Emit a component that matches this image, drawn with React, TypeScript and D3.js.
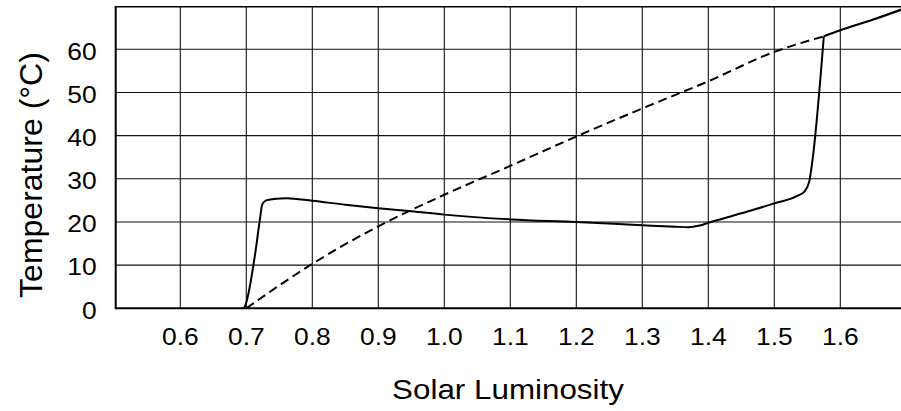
import React from 'react';
import * as d3 from 'd3';

const xTicks = [0.6, 0.7, 0.8, 0.9, 1.0, 1.1, 1.2, 1.3, 1.4, 1.5, 1.6];
const yTicks = [0, 10, 20, 30, 40, 50, 60];

// Solid curve (temperature with daisies), lower branch up to the jump
const solidL = [0.695, 0.698, 0.712, 0.721, 0.724, 0.73, 0.745, 0.761, 0.8, 0.85, 0.9, 0.95, 1.0, 1.1, 1.2, 1.3, 1.35, 1.37, 1.385, 1.4, 1.45, 1.5, 1.534, 1.546, 1.553, 1.557, 1.559, 1.575];
const solidT = [0, 0.5, 11.2, 21, 24, 25, 25.4, 25.5, 24.9, 24.0, 23.2, 22.5, 21.7, 20.6, 20.0, 19.25, 18.9, 18.8, 19.1, 19.8, 22.0, 24.3, 26.0, 27.1, 29.4, 33.3, 35.7, 63.0];
// Solid curve, upper branch after the jump
const solidHighL = [1.575, 1.6, 1.65, 1.7];
const solidHighT = [63.0, 64.4, 66.9, 69.6];

// Dashed curve (temperature without daisies)
const dashedL = [0.7, 0.8, 0.9, 1.0, 1.1, 1.2, 1.3, 1.4, 1.5, 1.575];
const dashedT = [0, 10.3, 19.0, 26.3, 33.0, 39.8, 46.3, 52.6, 59.4, 63.0];

const xLabel = 'Solar Luminosity';
const yLabel = 'Temperature (°C)';

export default function App() {
  const W = 901, H = 411;
  const x = d3.scaleLinear().domain([0.6, 1.6]).range([180.3, 840.3]);
  const y = d3.scaleLinear().domain([0, 60]).range([308.3, 49.3]);
  const left = 115.7, top = 6.7, bottom = 308.3, right = 906;
  const font = '"Liberation Sans", Arial, Helvetica, sans-serif';

  const line = d3.line<[number, number]>().x(d => x(d[0])).y(d => y(d[1])).curve(d3.curveMonotoneX);
  const pts = (ls: number[], ts: number[]) => ls.map((l, i) => [l, ts[i]] as [number, number]);
  const solid = line(pts(solidL, solidT)) || '';
  const solidHigh = line(pts(solidHighL, solidHighT)) || '';
  const dashed = line(pts(dashedL, dashedT)) || '';

  return (
    <svg width={W} height={H} style={{ position: 'absolute', left: 0, top: 0, background: '#fff' }}>
      <rect x={0} y={0} width={W} height={H} fill="#fff" />
      {xTicks.map(t => (
        <line key={'gx' + t} x1={x(t)} x2={x(t)} y1={top} y2={bottom} stroke="#111" strokeWidth={1.1} />
      ))}
      {yTicks.filter(t => t > 0).map(t => (
        <line key={'gy' + t} x1={left} x2={right} y1={y(t)} y2={y(t)} stroke="#111" strokeWidth={1.1} />
      ))}
      <line x1={left} x2={right} y1={top} y2={top} stroke="#000" strokeWidth={1.6} />
      <line x1={left} x2={right} y1={bottom} y2={bottom} stroke="#000" strokeWidth={2} />
      <line x1={left} x2={left} y1={top - 0.8} y2={bottom + 1} stroke="#000" strokeWidth={2} />

      <path d={dashed} fill="none" stroke="#000" strokeWidth={2} strokeDasharray="9,5" />
      <path d={solid} fill="none" stroke="#000" strokeWidth={2} strokeLinejoin="round" />
      <path d={solidHigh} fill="none" stroke="#000" strokeWidth={2.2} strokeLinejoin="round" />

      {xTicks.map(t => (
        <text key={'tx' + t} transform={`translate(${x(t)},345) scale(1.1,1)`} textAnchor="middle"
          fontFamily={font} fontSize={24} fill="#000">{d3.format('.1f')(t)}</text>
      ))}
      {yTicks.map(t => (
        <text key={'ty' + t} transform={`translate(96.7,${y(t) + 10.3}) scale(1.1,1)`} textAnchor="end"
          fontFamily={font} fontSize={24} fill="#000">{t}</text>
      ))}
      <text transform="translate(508,399.3) scale(1.12,1)" textAnchor="middle" fontFamily={font} fontSize={28} fill="#000">{xLabel}</text>
      <text transform="translate(41.7,175) rotate(-90)" textAnchor="middle" fontFamily={font} fontSize={32} fill="#000">{yLabel}</text>
    </svg>
  );
}
